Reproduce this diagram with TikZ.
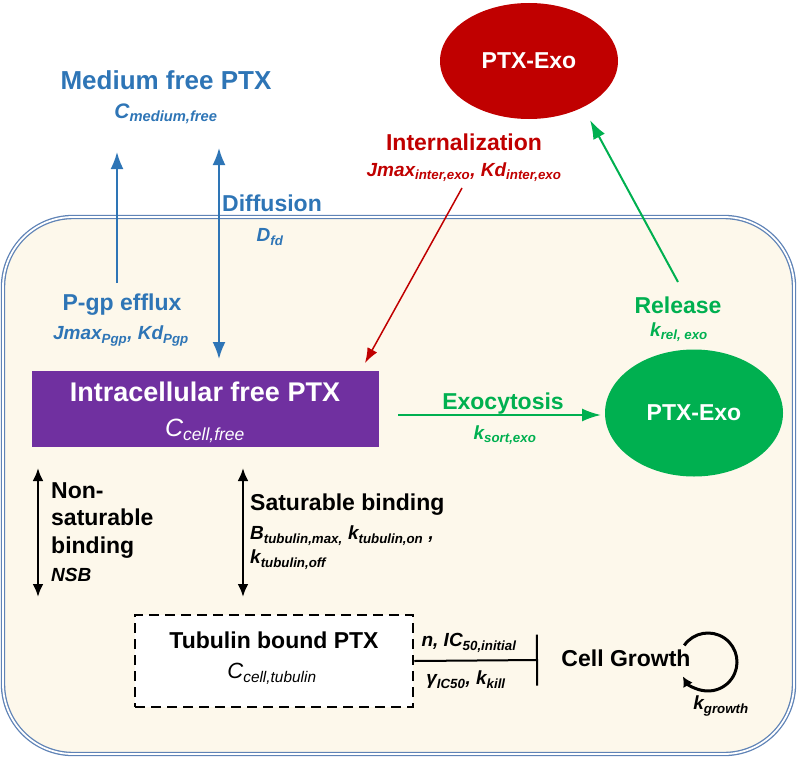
\documentclass[tikz,border=0pt]{standalone}
\usepackage{fontspec}
\setmainfont{Liberation Sans}
\usetikzlibrary{arrows.meta,shapes.geometric,positioning}
\definecolor{cblue}{HTML}{2E75B6}
\definecolor{cred}{HTML}{C00000}
\definecolor{cgreen}{HTML}{00B050}
\definecolor{cpurple}{HTML}{7030A0}
\definecolor{cellfill}{HTML}{FDF8EB}
\definecolor{cellline}{HTML}{5F83B6}
\newcommand{\psub}[2]{#1\textsubscript{#2}}

\begin{document}
\begin{tikzpicture}[x=1pt,y=-1pt,
    lbl/.style={font=\bfseries\fontsize{23}{27.5}\selectfont, inner sep=0pt},
    prm/.style={font=\bfseries\itshape\fontsize{19}{24}\selectfont, inner sep=0pt},
    exo/.style={ellipse, minimum width=178pt, inner sep=0pt, text=white,
      font=\bfseries\fontsize{23}{27}\selectfont},
    bluearr/.style={draw=cblue, line width=2pt},
    redarr/.style={draw=cred, line width=1.5pt, -{Latex[length=15pt,width=11pt]}},
    greenarr/.style={draw=cgreen, line width=2pt, -{Latex[length=19pt,width=13pt]}},
    bindarr/.style={line width=2.5pt, {Latex[length=13pt,width=11pt]}-{Latex[length=13pt,width=11pt]}}]
  \useasboundingbox (0,0) rectangle (800,760);
  % cell
  \draw[draw=cellline, double=white, double distance=1.8pt, line width=1.3pt,
    fill=cellfill, rounded corners=70pt] (3,217) rectangle (794,754);

  % medium
  \node[lbl, text=cblue, font=\bfseries\fontsize{26}{30}\selectfont] (medium) at (166,80) {Medium free PTX};
  \node[prm, text=cblue, font=\bfseries\itshape\fontsize{21}{24}\selectfont] (cmed) at (166,114) {\psub{C}{medium,free}};

  % exosomes
  \node[exo, fill=cred, minimum height=116pt] (rexo) at (529,61) {PTX-Exo};
  \node[exo, fill=cgreen, minimum height=127pt] (gexo) at (694,413) {PTX-Exo};

  % free drug box
  \node[fill=cpurple, minimum width=347pt, minimum height=76pt, inner sep=0pt] (free) at (205.5,409) {};
  \node[lbl, text=white, font=\bfseries\fontsize{27}{30}\selectfont] (freetxt) at (205,392) {Intracellular free PTX};
  \node[inner sep=0pt, text=white, font=\itshape\fontsize{25}{28}\selectfont] (cfree) at (205,431) {\psub{C}{cell,free}};

  % tubulin box
  \node[draw, fill=white, line width=2.5pt, dash pattern=on 10pt off 6pt,
    minimum width=278pt, minimum height=92pt] (tub) at (274,661) {};
  \node[lbl] (tubtxt) at (274,640) {Tubulin bound PTX};
  \node[inner sep=0pt, font=\itshape\fontsize{22}{26}\selectfont] (ctub) at (272,674) {\psub{C}{cell,tubulin}};

  % P-gp efflux and diffusion
  \node[lbl, text=cblue] (pgp) at (122,305) {P-gp efflux};
  \node[prm, text=cblue] (pgppar) at (121,336) {\psub{Jmax}{Pgp}, \psub{Kd}{Pgp}};
  \node[lbl, text=cblue] (diff) at (272,203) {Diffusion};
  \node[prm, text=cblue] (dfd) at (270,237) {\psub{D}{fd}};
  \coordinate (pgpfrom) at (117,283);
  \coordinate (pgpto) at (117,152);
  \coordinate (difftop) at (219,148);
  \coordinate (diffbot) at (219,359);
  \draw[bluearr, -{Latex[length=17pt,width=13pt]}] (pgpfrom) -- (pgpto);
  \draw[bluearr, {Latex[length=17pt,width=13pt]}-{Latex[length=17pt,width=13pt]}] (difftop) -- (diffbot);

  % internalization
  \node[lbl, text=cred] (intl) at (464,142) {Internalization};
  \node[prm, text=cred] (intpar) at (464,172) {\psub{Jmax}{inter,exo}, \psub{Kd}{inter,exo}};
  \coordinate (intfrom) at (462,188);
  \coordinate (intto) at (365,363);
  \draw[redarr] (intfrom) -- (intto);

  % release
  \node[lbl, text=cgreen] (rel) at (678,305) {Release};
  \node[prm, text=cgreen] (krel) at (679,332) {\psub{k}{rel, exo}};
  \coordinate (relfrom) at (678,282);
  \coordinate (relto) at (590,120);
  \draw[greenarr] (relfrom) -- (relto);

  % exocytosis
  \node[lbl, text=cgreen] (exocy) at (503,404) {Exocytosis};
  \node[prm, text=cgreen] (ksort) at (505,435) {\psub{k}{sort,exo}};
  \coordinate (exofrom) at (398,415);
  \coordinate (exoto) at (601,415);
  \draw[greenarr] (exofrom) -- (exoto);

  % binding
  \node[lbl, align=left, anchor=north west] (nonsat) at (51,482) {Non-\\saturable\\binding};
  \node[prm, anchor=west] (nsb) at (51,575) {NSB};
  \node[lbl, anchor=west] (sat) at (250,505) {Saturable binding};
  \node[prm, align=left, anchor=north west] (satpar) at (250,526)
    {\psub{B}{tubulin,max,} \psub{k}{tubulin,on} ,\\\psub{k}{tubulin,off}};
  \coordinate (nstop) at (38,468);
  \coordinate (nsbot) at (38,597);
  \coordinate (sattop) at (243,468);
  \coordinate (satbot) at (243,597);
  \draw[bindarr] (nstop) -- (nsbot);
  \draw[bindarr] (sattop) -- (satbot);

  % effect on growth
  \coordinate (inhend) at (538,660);
  \draw[line width=2pt, -{Bar[width=51pt,line width=2pt]}] (tub.east) -- (inhend);
  \node[prm] (npar) at (469,643) {n, \psub{IC}{50,initial}};
  \node[prm] (gpar) at (466,680) {\psub{γ}{IC50}, \psub{k}{kill}};
  \node[lbl] (growth) at (626,658) {Cell Growth};
  \coordinate (growc) at (708,662);
  \draw[line width=3pt, -{Latex[length=10pt,width=11pt]}] (growc) ++(145:29pt)
    arc[start angle=145, end angle=-150, radius=29pt];
  \node[prm] (kgrow) at (721,706) {\psub{k}{growth}};
\end{tikzpicture}
\end{document}
